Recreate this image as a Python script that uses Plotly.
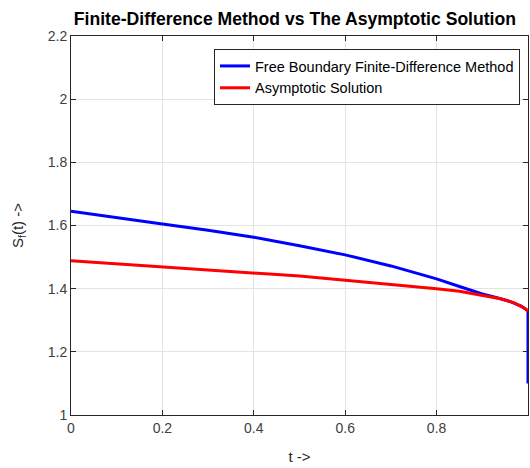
import plotly.graph_objects as go

# Free Boundary Finite-Difference Method
t_fd = [0.0, 0.1, 0.2, 0.3, 0.4, 0.5, 0.6, 0.7, 0.8, 0.85, 0.9, 0.93, 0.96, 0.985, 0.995, 1.0, 1.0]
s_fd = [1.645, 1.626, 1.605, 1.585, 1.563, 1.536, 1.507, 1.472, 1.431, 1.407, 1.383, 1.372, 1.360, 1.345, 1.336, 1.330, 1.10]

# Asymptotic Solution
t_as = [0.0, 0.1, 0.2, 0.3, 0.4, 0.5, 0.6, 0.7, 0.8, 0.85, 0.9, 0.94, 0.97, 0.985, 0.995, 1.0]
s_as = [1.488, 1.478, 1.468, 1.459, 1.450, 1.440, 1.427, 1.414, 1.400, 1.392, 1.380, 1.368, 1.355, 1.345, 1.336, 1.328]

x_ticks = [0, 0.2, 0.4, 0.6, 0.8, 1]
x_tick_labels = ["0", "0.2", "0.4", "0.6", "0.8", "1"]
y_ticks = [1, 1.2, 1.4, 1.6, 1.8, 2, 2.2]
y_tick_labels = ["1", "1.2", "1.4", "1.6", "1.8", "2", "2.2"]

FONT = "Liberation Sans, Arial"

fig = go.Figure()
fig.add_trace(go.Scatter(x=t_fd, y=s_fd, mode="lines", name="Free Boundary Finite-Difference Method",
                         line=dict(color="#0000ff", width=3)))
fig.add_trace(go.Scatter(x=t_as, y=s_as, mode="lines", name="Asymptotic Solution",
                         line=dict(color="#ff0000", width=3)))

axis_common = dict(showline=True, linecolor="#262626", linewidth=1, mirror="ticks",
                   ticks="inside", ticklen=5, tickcolor="#262626",
                   showgrid=True, gridcolor="#e3e3e3", gridwidth=1, zeroline=False,
                   automargin=False,
                   tickfont=dict(family=FONT, size=14, color="#404040"))

fig.update_layout(
    width=530, height=468,
    margin=dict(l=71, r=2, t=36, b=53, autoexpand=False),
    paper_bgcolor="white", plot_bgcolor="white",
    title=dict(text="<b>Finite-Difference Method vs The Asymptotic Solution</b>",
               xref="paper", x=0.49, xanchor="center",
               yref="container", y=0.959, yanchor="middle",
               font=dict(family=FONT, size=17.6, color="black")),
    xaxis=dict(range=[0, 1], tickvals=x_ticks, ticktext=x_tick_labels,
               title=dict(text="t -&gt;", standoff=16,
                          font=dict(family=FONT, size=15, color="#262626")),
               **axis_common),
    yaxis=dict(range=[1, 2.2], tickvals=y_ticks, ticktext=y_tick_labels,
               title=dict(text="S<sub>f</sub>(t) -&gt;", standoff=20,
                          font=dict(family=FONT, size=15, color="#262626")),
               **axis_common),
    legend=dict(x=0.9825, y=0.9657, xanchor="right", yanchor="top",
                bgcolor="white", bordercolor="#262626", borderwidth=1,
                font=dict(family=FONT, size=14.5, color="black"),
                tracegroupgap=0, itemwidth=30),
    showlegend=True,
)

# Remove the browser's default 8px page margin so the 530x468 figure fills the window.
page_fix = ("document.documentElement.style.overflow='hidden';"
            "document.body.style.margin='0';document.body.style.overflow='hidden';")

fig.write_html("out.html", post_script=page_fix, config={"displayModeBar": False})
